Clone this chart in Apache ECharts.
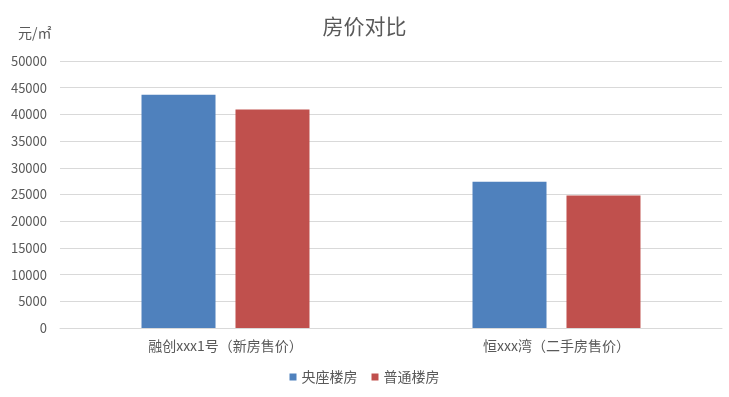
<!DOCTYPE html>
<html><head><meta charset="utf-8">
<script src="https://cdn.jsdelivr.net/npm/echarts@6/dist/echarts.min.js"></script>
<style>html,body{margin:0;padding:0;background:#fff}#c{width:729px;height:397px}</style>
</head><body><div id="c"></div>
<script>
const categories = ['融创xxx1号（新房售价）', '恒xxx湾（二手房售价）'];
const seriesNames = ['央座楼房', '普通楼房'];
const centralValues = [43700, 27400];
const normalValues = [40900, 24800];
const colors = ['#4f81bd', '#c0504d'];
const font = '"Noto Sans CJK SC", "Microsoft YaHei", sans-serif';
const chart = echarts.init(document.getElementById('c'));
chart.setOption({
  animation: false,
  textStyle: { fontFamily: font },
  title: [
    { text: '房价对比', left: 'center', top: 11, textStyle: { fontFamily: font, fontSize: 21, fontWeight: 'normal', color: '#595959' } },
    { text: '元/㎡', left: 13, top: 21, textStyle: { fontFamily: font, fontSize: 14, fontWeight: 'normal', color: '#595959' } }
  ],
  legend: {
    data: seriesNames, bottom: 8, left: 'center', itemWidth: 7, itemHeight: 7, itemGap: 14,
    icon: 'rect', textStyle: { fontFamily: font, fontSize: 14, color: '#595959' }
  },
  grid: { left: 60, right: 7, top: 61, bottom: 69, containLabel: false },
  xAxis: {
    type: 'category', data: categories,
    axisLine: { lineStyle: { color: '#d9d9d9' } }, axisTick: { show: false },
    axisLabel: { fontFamily: font, fontSize: 14, color: '#595959', margin: 11 }
  },
  yAxis: {
    type: 'value', min: 0, max: 50000, interval: 5000,
    axisLine: { show: false }, axisTick: { show: false },
    axisLabel: { fontFamily: font, fontSize: 13, color: '#595959', margin: 13, formatter: v => String(v) },
    splitLine: { lineStyle: { color: '#d9d9d9' } }
  },
  series: [
    { name: seriesNames[0], type: 'bar', data: centralValues, barWidth: 74, barGap: '27%', itemStyle: { color: colors[0] } },
    { name: seriesNames[1], type: 'bar', data: normalValues, barWidth: 74, itemStyle: { color: colors[1] } }
  ]
});
</script></body></html>
